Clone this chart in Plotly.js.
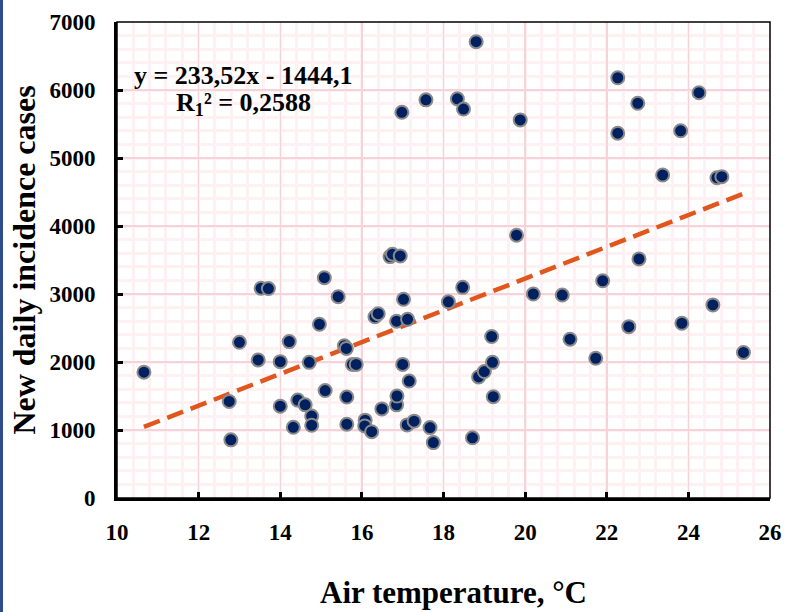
<!DOCTYPE html>
<html>
<head>
<meta charset="utf-8">
<script src="https://cdn.plot.ly/plotly-3.0.1.min.js"></script>
<style>
  html, body { margin: 0; padding: 0; background: #ffffff; }
  #chart { width: 786px; height: 612px; position: relative; }
  #edge { position: absolute; left: 0; top: 0; width: 3px; height: 612px; background: #2f4d8c; }
</style>
</head>
<body>
<div id="chart"></div>
<div id="edge"></div>
<script>
// Air temperature (°C)
const airTemp = [
  10.66, 12.75, 12.79, 13.00, 13.46, 14.00, 14.00, 14.22, 14.32, 14.43,
  14.61, 14.71, 14.77, 14.77, 14.96, 15.10, 15.42, 15.57, 15.62, 15.63,
  15.63, 15.77, 15.86, 16.08, 16.07, 16.24, 16.49, 16.32, 16.40, 16.85,
  16.85, 16.86, 17.00, 17.16, 17.11, 17.28, 17.67, 17.75, 18.71, 18.86,
  19.00, 19.20, 19.18, 19.22, 21.10, 21.73, 22.54, 23.84, 24.60, 25.35,
  20.20, 20.91, 18.12, 18.47, 17.02, 17.12, 16.69, 16.75, 16.94, 15.08,
  13.53, 13.71, 19.79, 22.79, 21.90, 23.37, 24.70, 24.82, 22.27, 23.81,
  19.88, 22.27, 22.76, 24.26, 18.80, 17.57, 18.34, 18.49, 16.98
];
// New daily incidence cases
const newCases = [
  1850, 1420, 855, 2290, 2030, 2005, 1350, 2300, 1040, 1440,
  1370, 1995, 1205, 1070, 2555, 1580, 2960, 2240, 2200, 1485,
  1085, 1965, 1965, 1145, 1060, 975, 1310, 2665, 2710, 2600,
  1370, 1500, 1965, 1720, 1075, 1130, 1035, 815, 885, 1780,
  1860, 1995, 2375, 1490, 2335, 2055, 2520, 2570, 2840, 2140,
  3000, 2985, 2885, 3098, 2922, 2628, 3550, 3585, 3560, 3240,
  3085, 3080, 3865, 3515, 3195, 4750, 4710, 4725, 5365, 5400,
  5560, 6180, 5805, 5960, 6710, 5855, 5870, 5720, 5672
];
// Linear trend coefficients
const slope = 233.52;
const intercept = -1444.1;
const equationText = "y = 233,52x - 1444,1";
const r2Text = "R<sub>1</sub>² = 0,2588";
const xTicks = [10, 12, 14, 16, 18, 20, 22, 24, 26];
const yTicks = [0, 1000, 2000, 3000, 4000, 5000, 6000, 7000];

const xMin = Math.min(...airTemp), xMax = Math.max(...airTemp);
const trendX = [xMin, xMax];
const trendY = trendX.map(v => slope * v + intercept);

const font = "Liberation Serif, Times New Roman, serif";

const traces = [
  {
    x: trendX, y: trendY, type: "scatter", mode: "lines",
    line: { color: "#e0561c", width: 4.5, dash: "17px,8px" },
    hoverinfo: "skip", showlegend: false
  },
  {
    x: airTemp, y: newCases, type: "scatter", mode: "markers",
    marker: { size: 13, color: "#002060", line: { color: "#8a8a8a", width: 2 } },
    showlegend: false
  }
];

const layout = {
  width: 786, height: 612,
  margin: { l: 117, r: 16, t: 22, b: 114 },
  paper_bgcolor: "#ffffff", plot_bgcolor: "#ffffff",
  font: { family: font, color: "#000000" },
  showlegend: false,
  xaxis: {
    range: [10, 26], tickvals: xTicks, ticktext: xTicks.map(String),
    showline: true, linecolor: "#000000", linewidth: 3,
    ticks: "inside", ticklen: 6, tickwidth: 3, tickcolor: "#000000",
    ticklabelstandoff: 11,
    tickfont: { family: font, size: 23, color: "#000000", weight: "bold" },
    showgrid: true, gridcolor: "#f5d3d8", gridwidth: 1.5,
    minor: { dtick: 0.4, tick0: 10, showgrid: true, gridcolor: "#fef1f3", gridwidth: 3, ticks: "" },
    zeroline: false, fixedrange: true
  },
  yaxis: {
    range: [0, 7000], tickvals: yTicks, ticktext: yTicks.map(String),
    showline: true, linecolor: "#000000", linewidth: 3,
    ticks: "inside", ticklen: 6, tickwidth: 3, tickcolor: "#000000",
    ticklabelstandoff: 14,
    tickfont: { family: font, size: 23, color: "#000000", weight: "bold" },
    showgrid: true, gridcolor: "#f5d3d8", gridwidth: 1.5,
    minor: { dtick: 200, tick0: 0, showgrid: true, gridcolor: "#fef1f3", gridwidth: 3, ticks: "" },
    zeroline: false, fixedrange: true
  },
  shapes: [
    { type: "rect", xref: "paper", yref: "paper", x0: 0, x1: 1, y0: 0, y1: 1,
      line: { color: "#000000", width: 1.5 }, fillcolor: "rgba(0,0,0,0)", layer: "above" }
  ],
  annotations: [
    { x: 13.09, y: 6206, xref: "x", yref: "y", text: equationText, showarrow: false,
      xanchor: "center", yanchor: "middle",
      font: { family: font, size: 26, color: "#000000", weight: "bold" } },
    { x: 13.09, y: 5800, xref: "x", yref: "y", text: r2Text, showarrow: false,
      xanchor: "center", yanchor: "middle",
      font: { family: font, size: 26, color: "#000000", weight: "bold" } },
    { x: 0.516, y: -0.198, xref: "paper", yref: "paper", text: "Air temperature, °C",
      showarrow: false, xanchor: "center", yanchor: "middle",
      font: { family: font, size: 31, color: "#000000", weight: "bold" } },
    { x: -0.143, y: 0.5, xref: "paper", yref: "paper", text: "New daily incidence cases",
      showarrow: false, textangle: -90, xanchor: "center", yanchor: "middle",
      font: { family: font, size: 32, color: "#000000", weight: "bold" } }
  ]
};

Plotly.newPlot("chart", traces, layout, { displayModeBar: false, staticPlot: true });
</script>
</body>
</html>
